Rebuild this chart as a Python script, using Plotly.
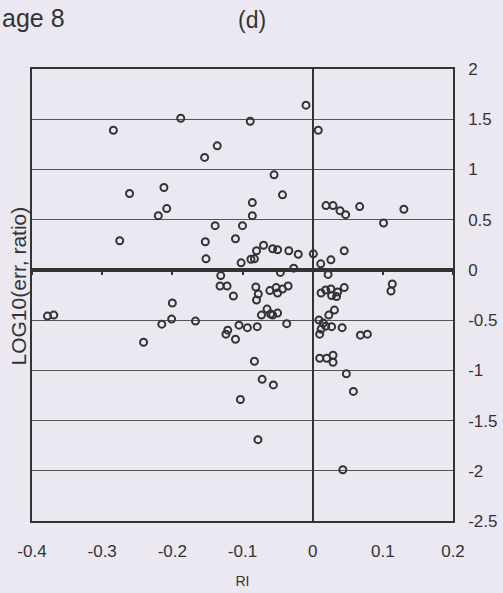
import plotly.graph_objects as go

# Data (RI vs LOG10(err, ratio))
ri = [
    -0.188, -0.284, -0.089, -0.0095, 0.008, -0.154, -0.136, -0.055, -0.043, -0.212,
    -0.261, -0.208, -0.220, -0.275, -0.086, -0.086, -0.139, -0.100, -0.153, -0.110,
    -0.152, -0.102, -0.088, -0.083, -0.080, -0.070, -0.057, -0.050, -0.034, -0.0205,
    0.001, -0.027, -0.046, 0.0115, 0.026, 0.045, 0.019, 0.029, 0.039, 0.047,
    0.067, 0.101, 0.130, 0.022, 0.012, 0.0185, 0.026, 0.027, 0.034, 0.0356,
    0.045, 0.1135, 0.1116, 0.031, 0.023, 0.009, 0.015, 0.0185, 0.027, 0.042,
    0.012, 0.010, 0.068, 0.078, 0.010, 0.020, 0.029, 0.029, 0.048, 0.058,
    0.043, -0.131, -0.132, -0.122, -0.113, -0.081, -0.0775, -0.080, -0.061, -0.052,
    -0.050, -0.043, -0.035, -0.378, -0.369, -0.200, -0.215, -0.201, -0.167, -0.241,
    -0.073, -0.065, -0.060, -0.057, -0.050, -0.105, -0.093, -0.079, -0.037, -0.121,
    -0.1236, -0.110, -0.083, -0.072, -0.056, -0.103, -0.078,
]
log_err = [
    1.51, 1.39, 1.48, 1.64, 1.39, 1.12, 1.235, 0.946, 0.747, 0.82,
    0.76, 0.61, 0.54, 0.29, 0.67, 0.54, 0.44, 0.44, 0.28, 0.31,
    0.11, 0.07, 0.106, 0.11, 0.19, 0.245, 0.21, 0.20, 0.19, 0.156,
    0.16, 0.017, -0.025, 0.06, 0.10, 0.19, 0.64, 0.64, 0.59, 0.55,
    0.63, 0.467, 0.604, -0.045, -0.23, -0.20, -0.19, -0.256, -0.266, -0.22,
    -0.176, -0.14, -0.21, -0.40, -0.45, -0.50, -0.53, -0.56, -0.565, -0.575,
    -0.59, -0.64, -0.65, -0.64, -0.88, -0.88, -0.85, -0.92, -1.035, -1.21,
    -1.99, -0.057, -0.16, -0.16, -0.26, -0.17, -0.24, -0.30, -0.206, -0.176,
    -0.23, -0.19, -0.16, -0.46, -0.45, -0.33, -0.54, -0.49, -0.51, -0.72,
    -0.45, -0.39, -0.44, -0.45, -0.43, -0.55, -0.575, -0.565, -0.535, -0.60,
    -0.64, -0.69, -0.91, -1.09, -1.145, -1.29, -1.69,
]

x_tickvals = [-0.4, -0.3, -0.2, -0.1, 0, 0.1, 0.2]
x_ticktext = ["-0.4", "-0.3", "-0.2", "-0.1", "0", "0.1", "0.2"]
y_tickvals = [2, 1.5, 1, 0.5, 0, -0.5, -1, -1.5, -2, -2.5]
y_ticktext = ["2", "1.5", "1", "0.5", "0", "-0.5", "-1", "-1.5", "-2", "-2.5"]

BG = "#ECE8F2"
INK = "#333333"
FONT = "Liberation Sans, Arial, sans-serif"

fig = go.Figure()
fig.add_trace(go.Scatter(
    x=ri, y=log_err, mode="markers",
    marker=dict(symbol="circle-open", size=7, color=INK, line=dict(width=2, color=INK)),
    showlegend=False, hoverinfo="skip",
))

fig.update_layout(
    width=503, height=593,
    margin=dict(l=32, r=50, t=69, b=72),
    paper_bgcolor=BG, plot_bgcolor=BG,
    font=dict(family=FONT, color=INK, size=17),
    xaxis=dict(
        range=[-0.4, 0.2], tickvals=x_tickvals, ticktext=x_ticktext,
        showgrid=False, zeroline=True, zerolinecolor=INK, zerolinewidth=1.5,
        showline=True, linecolor=INK, linewidth=1.5, mirror=True,
        ticks="", ticklabelstandoff=14, automargin=False,
        title=dict(text="RI", font=dict(size=14), standoff=16),
    ),
    xaxis2=dict(
        range=[-0.4, 0.2], tickvals=x_tickvals, overlaying="x",
        anchor="free", position=2.5 / 4.5, showticklabels=False,
        showgrid=False, zeroline=False, showline=False,
        ticks="outside", ticklen=4, tickwidth=2, tickcolor=INK,
    ),
    yaxis=dict(
        range=[-2.5, 2], tickvals=y_tickvals, ticktext=y_ticktext,
        side="right", showgrid=True, gridcolor="#555555", gridwidth=1,
        zeroline=True, zerolinecolor=INK, zerolinewidth=3.5,
        showline=True, linecolor=INK, linewidth=1.5, mirror=True,
        ticks="", ticklabelstandoff=10, automargin=False,
    ),
    annotations=[
        dict(text="LOG10(err, ratio)", textangle=-90, xref="paper", yref="paper",
             x=-0.032, y=0.52, xanchor="center", yanchor="middle",
             showarrow=False, font=dict(size=21)),
        dict(text="age 8", xref="paper", yref="paper", x=-0.076, y=1.113,
             xanchor="left", yanchor="middle", showarrow=False, font=dict(size=25)),
        dict(text="(d)", xref="paper", yref="paper", x=0.5226, y=1.108,
             xanchor="center", yanchor="middle", showarrow=False, font=dict(size=23)),
    ],
)
# trace for the tick-mark axis so it renders
fig.add_trace(go.Scatter(x=[None], y=[None], xaxis="x2", showlegend=False))

fig.write_html("out.html")
